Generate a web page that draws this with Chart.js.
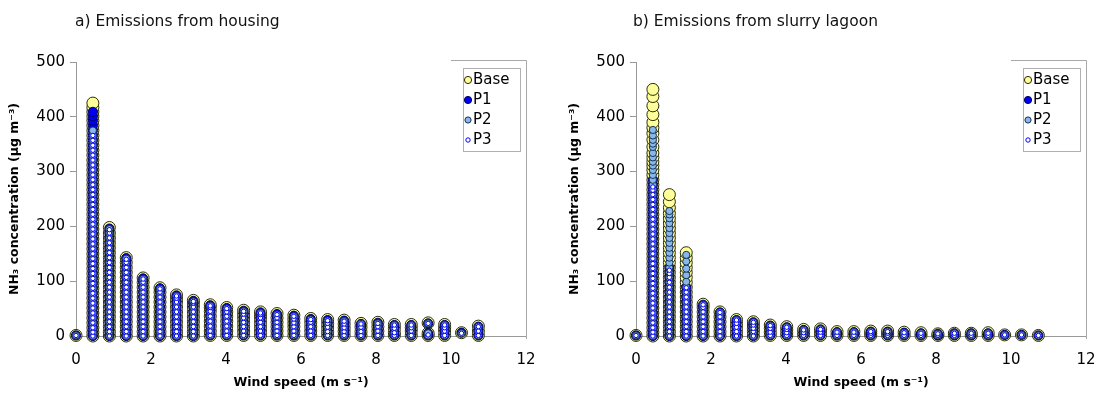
<!DOCTYPE html>
<html>
<head>
<meta charset="utf-8">
<script src="https://cdn.jsdelivr.net/npm/chart.js@4/dist/chart.umd.min.js"></script>
<style>
  html, body { margin: 0; padding: 0; background: #fff; }
  #wrap { position: relative; width: 1096px; height: 396px; overflow: hidden; }
  canvas { position: absolute; top: 0; }
  .ttl { position: absolute; top: 12px; font: 15.5px "DejaVu Sans", sans-serif; color: #111; white-space: nowrap; }
</style>
</head>
<body>
<div id="wrap">
  <canvas id="cA" width="536" height="396" style="left:0px;width:536px;height:396px"></canvas>
  <canvas id="cB" width="536" height="396" style="left:560px;width:536px;height:396px"></canvas>
  <div class="ttl" style="left:75px">a) Emissions from housing</div>
  <div class="ttl" style="left:633px">b) Emissions from slurry lagoon</div>
</div>
<script>
// ---- data (wind speed columns, m/s) ----
const windSpeed = [0, 0.45, 0.89, 1.34, 1.79, 2.24, 2.68, 3.13, 3.58, 4.02, 4.47, 4.92, 5.36, 5.81, 6.26, 6.71, 7.15, 7.60, 8.05, 8.49, 8.94, 9.39, 9.83, 10.28, 10.73];
const seriesNames = ['Base', 'P1', 'P2', 'P3'];
const xTicks = [0, 2, 4, 6, 8, 10, 12];
const yTicks = [0, 100, 200, 300, 400, 500];

// a) housing — NH3 concentration values per wind-speed column
const housingBase = [
  [1],
  [0,7,15,24,33,42,51,60,69,78,87,96,105,114,123,132,141,150,159,168,177,186,195,204,213,222,231,240,249,258,267,276,285,294,303,312,321,330,339,348,357,366,375,384,393,401,409,417,425],
  [0,8,17,26,35,44,53,62,71,80,89,98,107,116,125,134,143,152,161,170,179,188,198],
  [0,8,17,26,35,44,53,62,71,80,89,98,107,116,125,134,143],
  [0,8,17,26,35,44,53,62,71,80,89,98,106],
  [0,8,17,26,35,44,53,62,71,80,88],
  [0,8,17,26,35,44,53,62,69,75],
  [0,8,17,26,35,44,53,60,65],
  [1,9,18,27,36,45,52,57],
  [1,9,18,27,36,44,52],
  [1,9,17,25,33,40,47],
  [1,9,17,25,33,39,44],
  [1,9,17,25,33,41],
  [1,9,17,24,31,38],
  [1,9,17,25,32],
  [1,8,16,23,30],
  [1,8,15,22,29],
  [1,8,16,23],
  [1,9,17,25],
  [1,6,14,21],
  [1,9,15,21],
  [1,5,24],
  [1,9,15,21],
  [6],
  [1,9,18]
];
const housingP1 = [
  [1],
  [0,7,15,24,33,42,51,60,69,78,87,96,105,114,123,132,141,150,159,168,177,186,195,204,213,222,231,240,249,258,267,276,285,294,303,312,321,330,339,348,357,366,375,384,393,401,409],
  [0,8,17,26,35,44,53,62,71,80,89,98,107,116,125,134,143,152,161,170,179,188,196],
  [0,8,17,26,35,44,53,62,71,80,89,98,107,116,125,134,142],
  [0,8,17,26,35,44,53,62,71,80,89,98,105],
  [0,8,17,26,35,44,53,62,71,80,87],
  [0,8,17,26,35,44,53,62,69,74],
  [0,8,17,26,35,44,53,60,64],
  [1,9,18,27,36,45,52,56],
  [1,9,18,27,36,44,51],
  [1,9,17,25,33,40,46],
  [1,9,17,25,33,39,43],
  [1,9,17,25,33,40],
  [1,9,17,24,31,37],
  [1,9,17,25,31],
  [1,8,16,23,29],
  [1,8,15,22,28],
  [1,8,16,22],
  [1,9,17,24],
  [1,6,14,20],
  [1,9,15,20],
  [1,5,23],
  [1,9,15,20],
  [6],
  [1,9,17]
];
const housingP2 = [
  [1],
  [0,7,15,24,33,42,51,60,69,78,87,96,105,114,123,132,141,150,159,168,177,186,195,204,213,222,231,240,249,258,267,276,285,294,303,312,321,330,339,348,357,366,375],
  [0,8,17,26,35,44,53,62,71,80,89,98,107,116,125,134,143,152,161,170,179,188,195],
  [0,8,17,26,35,44,53,62,71,80,89,98,107,116,125,134,141],
  [0,8,17,26,35,44,53,62,71,80,89,98,104],
  [0,8,17,26,35,44,53,62,71,80,86],
  [0,8,17,26,35,44,53,62,69,73],
  [0,8,17,26,35,44,53,60,63],
  [1,9,18,27,36,45,52,55],
  [1,9,18,27,36,44,50],
  [1,9,17,25,33,40,45],
  [1,9,17,25,33,39,42],
  [1,9,17,25,33,39],
  [1,9,17,24,31,36],
  [1,9,17,25,30],
  [1,8,16,23,28],
  [1,8,15,22,27],
  [1,8,16,22],
  [1,9,17,23],
  [1,6,14,20],
  [1,9,15,20],
  [1,5,23],
  [1,9,15,20],
  [5],
  [1,9,17]
];
const housingP3 = [
  [1],
  [0,7,15,24,33,42,51,60,69,78,87,96,105,114,123,132,141,150,159,168,177,186,195,204,213,222,231,240,249,258,267,276,285,294,303,312,321,330,339,348,357,366],
  [0,8,17,26,35,44,53,62,71,80,89,98,107,116,125,134,143,152,161,170,179,188,194],
  [0,8,17,26,35,44,53,62,71,80,89,98,107,116,125,134,140],
  [0,8,17,26,35,44,53,62,71,80,89,98,104],
  [0,8,17,26,35,44,53,62,71,80,86],
  [0,8,17,26,35,44,53,62,69,73],
  [0,8,17,26,35,44,53,60,63],
  [1,9,18,27,36,45,52,55],
  [1,9,18,27,36,44,50],
  [1,9,17,25,33,40,45],
  [1,9,17,25,33,39,42],
  [1,9,17,25,33,39],
  [1,9,17,24,31,36],
  [1,9,17,25,30],
  [1,8,16,23,28],
  [1,8,15,22,27],
  [1,8,16,22],
  [1,9,17,23],
  [1,6,14,20],
  [1,9,15,20],
  [2,23],
  [1,9,15,20],
  [5],
  [1,9,17]
];

// b) slurry lagoon — NH3 concentration values per wind-speed column
const lagoonBase = [
  [1],
  [0,7,15,24,33,42,51,60,69,78,87,96,105,114,123,132,141,150,159,168,177,186,195,204,213,222,231,240,249,258,267,276,285,294,303,311,318,326,334,345,358,370,380,390,404,420,437,450],
  [0,8,17,26,35,44,53,62,71,80,89,98,107,116,125,134,143,152,161,170,179,188,197,206,215,224,234,245,258],
  [0,8,17,26,35,44,53,62,71,80,89,98,107,116,125,134,143,152],
  [0,8,17,26,35,44,52,58],
  [0,8,17,26,35,44],
  [0,8,16,23,30],
  [0,8,14,20,26],
  [1,7,14,20],
  [1,6,12,17],
  [1,6,12],
  [1,7,13],
  [1,8],
  [1,8],
  [1,5,9],
  [1,5,9],
  [1,7],
  [1,6],
  [1,4],
  [1,5],
  [1,5],
  [1,6],
  [2],
  [2],
  [1]
];
const lagoonP1 = [
  [1],
  [0,7,15,24,33,42,51,60,69,78,87,96,105,114,123,132,141,150,159,168,177,186,195,204,213,222,231,240,249,258,267,276,285],
  [0,8,17,26,35,44,53,62,71,80,89,98,107,116,125],
  [0,8,17,26,35,44,53,62,71,80,89],
  [0,8,17,26,35,44,52,57],
  [0,8,17,26,35,43],
  [0,8,16,23,29],
  [0,8,14,20,25],
  [1,7,14,19],
  [1,6,12,16],
  [1,6,11],
  [1,7,12],
  [1,7],
  [1,7],
  [1,5,8],
  [1,5,8],
  [1,6],
  [1,5],
  [1,4],
  [1,5],
  [1,5],
  [1,5],
  [2],
  [2],
  [1]
];
const lagoonP2 = [
  [1],
  [0,7,15,24,33,42,51,60,69,78,87,96,105,114,123,132,141,150,159,168,177,186,195,204,213,222,231,240,249,258,267,276,285,294,303,311,318,326,334,345,351,358,366,376],
  [0,8,17,26,35,44,53,62,71,80,89,98,107,116,125,134,143,152,161,170,179,188,197,206,215,222,228],
  [0,8,17,26,35,44,53,62,71,80,89,99,111,123,136,148],
  [0,8,17,26,35,44,52,57],
  [0,8,17,26,35,43],
  [0,8,16,23,29],
  [0,8,14,20,25],
  [1,7,14,19],
  [1,6,12,16],
  [1,6,11],
  [1,7,12],
  [1,7],
  [1,7],
  [1,5,8],
  [1,5,8],
  [1,6],
  [1,5],
  [1,4],
  [1,5],
  [1,5],
  [1,5],
  [2],
  [2],
  [1]
];
const lagoonP3 = [
  [1],
  [0,7,15,24,33,42,51,60,69,78,87,96,105,114,123,132,141,150,159,168,177,186,195,204,213,222,231,240,249,258,266,272],
  [0,8,17,26,35,44,53,62,71,80,89,98,107,114,120],
  [0,8,17,26,35,44,53,62,71,80,88],
  [0,8,17,26,35,44,52,57],
  [0,8,17,26,35,43],
  [0,8,16,23,29],
  [0,8,14,20,25],
  [1,7,14,19],
  [1,6,12,16],
  [1,6,11],
  [1,7,12],
  [1,7],
  [1,7],
  [1,5,8],
  [1,5,8],
  [1,6],
  [1,5],
  [1,4],
  [1,5],
  [1,5],
  [1,5],
  [2],
  [2],
  [1]
];

// ---- styles ----
const styles = [
  { bg: '#FFFF99', border: '#2b2b05', r: 6,   lr: 3.6 },
  { bg: '#0000EE', border: '#000066', r: 4.6, lr: 3.6 },
  { bg: '#86B8EA', border: '#1c3050', r: 3.6, lr: 3.1 },
  { bg: '#FFFFFF', border: '#0000FF', r: 2.2, lr: 2.2 }
];
const FONT = '"DejaVu Sans", sans-serif';

function toPoints(cols) {
  return cols.flatMap((ys, i) => ys.map(y => ({ x: windSpeed[i], y })));
}

const insideLegend = {
  id: 'insideLegend',
  afterDraw(chart) {
    const { ctx, chartArea: a } = chart;
    ctx.save();
    ctx.lineWidth = 1;
    ctx.strokeStyle = '#a8a8a8';
    // plot-area right frame and the top segment near the legend
    ctx.beginPath();
    ctx.moveTo(Math.round(a.right) + 0.5, a.top - 1.5);
    ctx.lineTo(Math.round(a.right) + 0.5, a.bottom + 3);
    ctx.moveTo(a.right - 75, a.top - 1.5);
    ctx.lineTo(Math.round(a.right) + 0.5, a.top - 1.5);
    ctx.stroke();
    // legend box
    const w = 57, h = 83;
    const x0 = Math.round(a.right - 6 - w), y0 = Math.round(a.top + 6);
    ctx.fillStyle = '#fff';
    ctx.fillRect(x0, y0, w, h);
    ctx.strokeStyle = '#b0b0b0';
    ctx.strokeRect(x0 + 0.5, y0 + 0.5, w, h);
    ctx.font = '15px ' + FONT;
    ctx.textBaseline = 'middle';
    ctx.textAlign = 'left';
    chart.data.datasets.forEach((ds, i) => {
      const cy = y0 + 12 + i * 20;
      ctx.beginPath();
      ctx.arc(x0 + 5, cy, ds.legendRadius, 0, Math.PI * 2);
      ctx.fillStyle = ds.backgroundColor;
      ctx.fill();
      ctx.strokeStyle = ds.borderColor;
      ctx.stroke();
      ctx.fillStyle = '#000';
      ctx.fillText(ds.label, x0 + 10, cy + 0.5);
    });
    ctx.restore();
  }
};

function makeChart(id, seriesCols) {
  const datasets = seriesCols.map((cols, i) => ({
    label: seriesNames[i],
    data: toPoints(cols),
    backgroundColor: styles[i].bg,
    borderColor: styles[i].border,
    borderWidth: 1,
    pointRadius: styles[i].r,
    pointHoverRadius: styles[i].r,
    legendRadius: styles[i].lr,
    order: seriesCols.length - i,
    clip: false
  }));
  return new Chart(document.getElementById(id), {
    type: 'scatter',
    data: { datasets },
    options: {
      responsive: false,
      animation: false,
      events: [],
      layout: { padding: { top: 62, right: 10, left: 0, bottom: 0 } },
      plugins: { legend: { display: false }, tooltip: { enabled: false } },
      scales: {
        x: {
          type: 'linear',
          min: xTicks[0], max: xTicks[xTicks.length - 1],
          afterBuildTicks: s => { s.ticks = xTicks.map(v => ({ value: v })); },
          afterFit: s => { s.height = 60; },
          ticks: { padding: 0, color: '#000', font: { family: FONT, size: 15 } },
          grid: { display: true, drawOnChartArea: false, drawTicks: true, tickLength: 15, tickColor: 'rgba(0,0,0,0)', color: '#999' },
          border: { color: '#999', width: 1 },
          title: {
            display: true, text: 'Wind speed (m s⁻¹)', color: '#000',
            font: { family: FONT, size: 12.5, weight: 'bold' },
            padding: { top: 0, bottom: 6 }
          }
        },
        y: {
          type: 'linear',
          min: yTicks[0], max: yTicks[yTicks.length - 1],
          afterBuildTicks: s => { s.ticks = yTicks.map(v => ({ value: v })); },
          afterFit: s => { s.width = 76; },
          ticks: { padding: 5, color: '#000', font: { family: FONT, size: 15 } },
          grid: { display: true, drawOnChartArea: false, drawTicks: true, tickLength: 6, color: '#999' },
          border: { color: '#999', width: 1 },
          title: {
            display: true, text: 'NH₃ concentration (µg m⁻³)', color: '#000',
            font: { family: FONT, size: 12.5, weight: 'bold' },
            padding: { top: 7, bottom: 0 }
          }
        }
      }
    },
    plugins: [insideLegend]
  });
}

makeChart('cA', [housingBase, housingP1, housingP2, housingP3]);
makeChart('cB', [lagoonBase, lagoonP1, lagoonP2, lagoonP3]);
</script>
</body>
</html>
